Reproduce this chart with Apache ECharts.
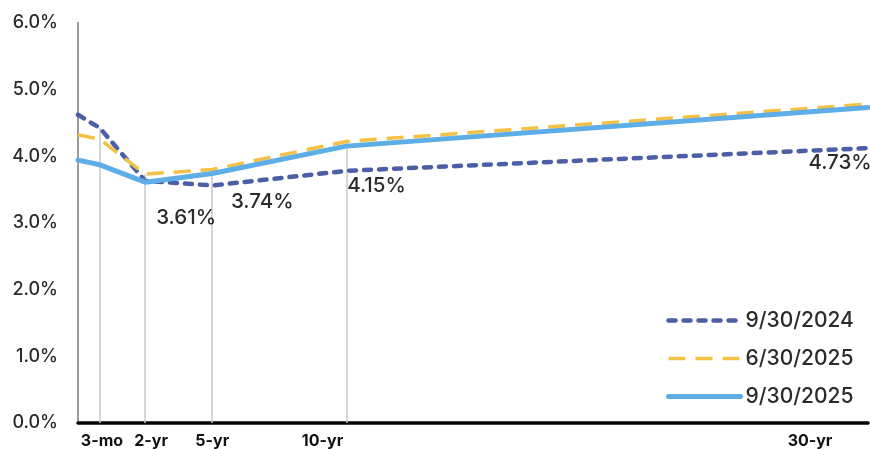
<!DOCTYPE html>
<html><head><meta charset="utf-8">
<script src="https://cdn.jsdelivr.net/npm/echarts@6/dist/echarts.min.js"></script>
<style>html,body{margin:0;padding:0;background:#fff}#c{width:870px;height:449px}</style>
</head><body><div id="c"></div>
<script>
// ---- data ----
const tenorLabels = ['', '3-mo', '2-yr', '5-yr', '10-yr', '30-yr'];
const tenorX = [-0.6, 0.25, 2, 4.6, 9.8, 30];
const seriesNames = ['9/30/2024', '6/30/2025', '9/30/2025'];
const yields2024Sep = [4.62, 4.42, 3.63, 3.56, 3.78, 4.12];
const yields2025Jun = [4.32, 4.25, 3.73, 3.80, 4.22, 4.78];
const yields2025Sep = [3.94, 3.87, 3.61, 3.74, 4.15, 4.73];
const labeledIdx = [2, 3, 4, 5];
const dropLineIdx = [1, 2, 3, 4];

// ---- style ----
const FONT = 'Inter';
const TXT = '#2b2b2b';
const labelOffsets = {2: [41, 36], 3: [50, 28], 4: [30, 40], 5: [-28, 55]};
const xLabelPad = {1: [0, 0, 0, 4], 2: [0, 0, 0, 12], 3: [0, 0, 0, 0], 4: [0, 48, 0, 0], 5: [0, 116, 0, 0]};

const pts = arr => arr.map((v, i) => [tenorX[i], v]);
const rich = {};
Object.keys(xLabelPad).forEach(k => {
  rich['s' + k] = {padding: xLabelPad[k], fontSize: 16, fontWeight: 'bold', color: '#111', fontFamily: FONT};
});

const chart = echarts.init(document.getElementById('c'));
chart.setOption({
  animation: false,
  textStyle: {fontFamily: FONT},
  grid: {left: 78, right: 2, top: 22.7, bottom: 26},
  legend: {
    data: seriesNames,
    orient: 'vertical',
    left: 661, top: 305,
    itemWidth: 72, itemHeight: 14, itemGap: 17,
    itemStyle: {opacity: 0},
    lineStyle: {width: 'inherit'},
    textStyle: {fontSize: 21, color: TXT, fontFamily: FONT, fontWeight: 500}
  },
  xAxis: {
    type: 'value', min: -0.6, max: 30,
    axisLine: {show: true, lineStyle: {color: '#000', width: 3.5}},
    axisTick: {show: false},
    splitLine: {show: false},
    axisLabel: {
      customValues: tenorX.slice(1),
      showMinLabel: true, showMaxLabel: true,
      margin: 10,
      formatter: v => {
        const i = tenorX.findIndex(t => Math.abs(t - v) < 1e-6);
        return i > 0 ? '{s' + i + '|' + tenorLabels[i] + '}' : '';
      },
      rich: rich
    }
  },
  yAxis: {
    type: 'value', min: 0, max: 6, interval: 1,
    axisLine: {show: true, onZero: false, lineStyle: {color: '#9a9a9a', width: 2}},
    axisTick: {show: false},
    splitLine: {show: false},
    axisLabel: {formatter: v => v.toFixed(1) + '%', fontSize: 18, color: TXT, margin: 20, fontFamily: FONT, fontWeight: 500}
  },
  series: [
    {
      name: '_drop', type: 'line', data: [], silent: true,
      markLine: {
        silent: true, symbol: ['none', 'none'], z: 1, animation: false,
        label: {show: false},
        lineStyle: {color: '#c8c8c8', width: 1.5, type: 'solid'},
        data: dropLineIdx.map(i => [
          {coord: [tenorX[i], 0]},
          {coord: [tenorX[i], Math.max(yields2024Sep[i], yields2025Jun[i], yields2025Sep[i])]}
        ])
      }
    },
    {
      name: seriesNames[0], type: 'line', data: pts(yields2024Sep), symbol: 'none', z: 3,
      itemStyle: {color: '#4B5FA6'},
      lineStyle: {color: '#4B5FA6', width: 4.5, type: [7, 8], cap: 'round'}
    },
    {
      name: seriesNames[1], type: 'line', data: pts(yields2025Jun), symbol: 'none', z: 4,
      itemStyle: {color: '#F4C145'},
      lineStyle: {color: '#F4C145', width: 3.5, type: [17, 10]}
    },
    {
      name: seriesNames[2], type: 'line', data: pts(yields2025Sep), symbol: 'none', z: 5,
      itemStyle: {color: '#5DADE6'},
      lineStyle: {color: '#5DADE6', width: 5, cap: 'round'}
    },
    {
      name: '_labels', type: 'scatter', symbolSize: 1, silent: true, z: 6,
      itemStyle: {color: '#ffffff', opacity: 0.001},
      emphasis: {disabled: true},
      data: labeledIdx.map(i => ({
        value: [tenorX[i], yields2025Sep[i]],
        label: {offset: labelOffsets[i]}
      })),
      label: {
        show: true, position: 'inside', fontSize: 20.5, color: TXT, fontFamily: FONT, fontWeight: 500,
        opacity: 1, textBorderWidth: 0,
        formatter: p => p.value[1].toFixed(2) + '%'
      }
    }
  ]
});
</script></body></html>
